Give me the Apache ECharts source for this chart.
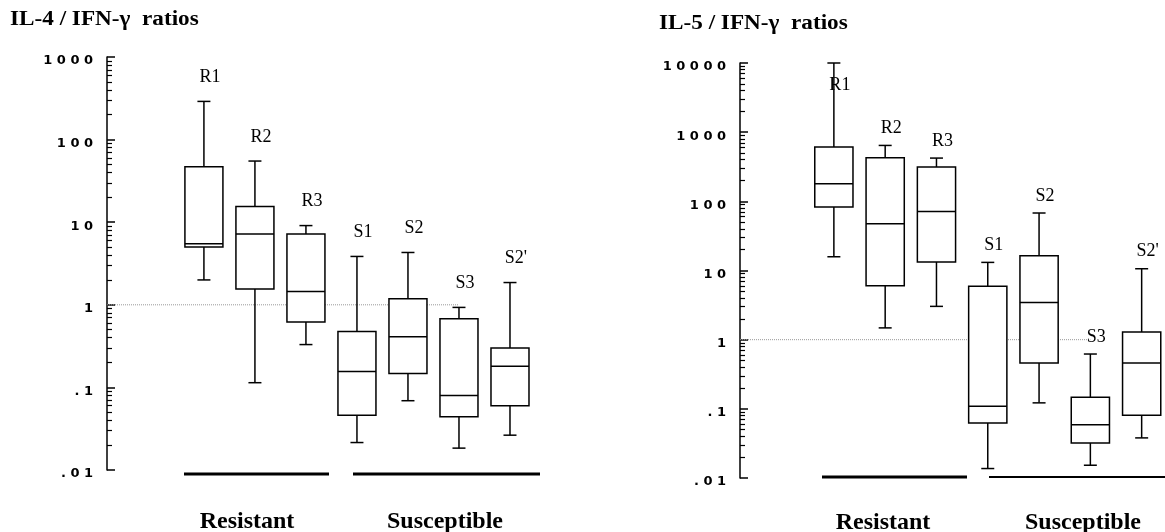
<!DOCTYPE html>
<html>
<head>
<meta charset="utf-8">
<script src="https://cdn.jsdelivr.net/npm/echarts@6/dist/echarts.min.js"></script>
<style>
  html, body { margin: 0; padding: 0; background: #fff; }
  #chart { width: 1165px; height: 532px; }
</style>
</head>
<body>
<div id="chart"></div>
<script>
  // groups (same order in both panels)
  var groups = ['R1', 'R2', 'R3', 'S1', 'S2', 'S3', "S2'"];

  // box values: [min, Q1, median, Q3, max]
  var il4Boxes = [
    [2.0, 5.0, 5.5, 47, 290],
    [0.114, 1.55, 7.2, 15.5, 55],
    [0.33, 0.62, 1.45, 7.2, 9.1],
    [0.0215, 0.046, 0.156, 0.475, 3.85],
    [0.069, 0.147, 0.41, 1.18, 4.3],
    [0.0184, 0.044, 0.08, 0.68, 0.93],
    [0.0264, 0.06, 0.18, 0.30, 1.86]
  ];
  var il5Boxes = [
    [15.8, 83, 180, 609, 10000],
    [1.48, 6.03, 47.5, 427, 643],
    [3.03, 13.3, 71.5, 313, 422],
    [0.0137, 0.0625, 0.109, 5.9, 13.1],
    [0.122, 0.46, 3.46, 16.4, 67.8],
    [0.0153, 0.032, 0.059, 0.147, 0.62],
    [0.038, 0.0806, 0.46, 1.29, 10.6]
  ];

  // y tick labels, one per decade from .01 up
  var il4TickLabels = ['. 0 1', '. 1', '1', '1 0', '1 0 0', '1 0 0 0'];
  var il5TickLabels = ['. 0 1', '. 1', '1', '1 0', '1 0 0', '1 0 0 0', '1 0 0 0 0'];

  var refLevel = 1;        // dotted line at ratio 1
  var refEndGroup = 'S3';  // dotted line runs up to this group

  var titles = ['IL-4 / IFN-\u03b3  ratios', 'IL-5 / IFN-\u03b3  ratios'];
  var groupNames = ['Resistant', 'Susceptible'];

  function decades(labels) {
    return labels.map(function (l, i) { return Math.pow(10, i - 2); });
  }
  function minors(labels) {
    var out = [];
    for (var i = 0; i < labels.length - 1; i++) {
      for (var k = 2; k <= 9; k++) out.push(k * Math.pow(10, i - 2));
    }
    return out;
  }
  function fmt(labels) {
    return function (v) {
      return labels[Math.round(Math.log10(v)) + 2];
    };
  }

  function boxData(boxes) {
    return boxes.map(function (b, i) { return [i].concat(b); });
  }

  function makeRender(labelUp, topClamp) {
    return function (params, api) {
      var i = api.value(0);
      var lo = api.coord([i, api.value(1)]);
      var q1 = api.coord([i, api.value(2)]);
      var md = api.coord([i, api.value(3)]);
      var q3 = api.coord([i, api.value(4)]);
      var hi = api.coord([i, api.value(5)]);
      var unit = api.coord([i + 0.5, api.value(3)])[0] - api.coord([i - 0.5, api.value(3)])[0];
      var bw = unit * 0.745;
      var cw = 13;
      var x = lo[0];
      var ls = { stroke: '#000', lineWidth: 1.5, fill: null };
      var labelY = Math.max(hi[1] - labelUp, topClamp);
      return {
        type: 'group',
        children: [
          { type: 'line', shape: { x1: x, y1: hi[1], x2: x, y2: q3[1] }, style: ls },
          { type: 'line', shape: { x1: x, y1: q1[1], x2: x, y2: lo[1] }, style: ls },
          { type: 'line', shape: { x1: x - cw / 2, y1: hi[1], x2: x + cw / 2, y2: hi[1] }, style: ls },
          { type: 'line', shape: { x1: x - cw / 2, y1: lo[1], x2: x + cw / 2, y2: lo[1] }, style: ls },
          { type: 'rect', shape: { x: x - bw / 2, y: q3[1], width: bw, height: q1[1] - q3[1] },
            style: { fill: '#fff', stroke: '#000', lineWidth: 1.5 } },
          { type: 'line', shape: { x1: x - bw / 2, y1: md[1], x2: x + bw / 2, y2: md[1] }, style: ls },
          { type: 'text', x: x + 6, y: labelY,
            style: { text: groups[params.dataIndex], fill: '#000', font: '18px "Liberation Serif"',
                     align: 'center', verticalAlign: 'middle' } }
        ]
      };
    };
  }

  function yAxes(grid, labels) {
    var major = decades(labels);
    return [
      {
        type: 'log', logBase: 10, gridIndex: grid, position: 'left',
        min: major[0], max: major[major.length - 1],
        axisLine: { show: true, onZero: false, lineStyle: { color: '#000', width: 1.5 } },
        axisTick: { show: true, inside: true, length: 8, customValues: major,
                    lineStyle: { color: '#000', width: 1.5 } },
        axisLabel: { customValues: major, formatter: fmt(labels), color: '#000',
                     fontFamily: 'DejaVu Sans', fontWeight: 'bold', fontSize: 13,
                     margin: 14, verticalAlign: 'top', lineHeight: 8 },
        splitLine: { show: false }
      },
      {
        type: 'log', logBase: 10, gridIndex: grid, position: 'left',
        min: major[0], max: major[major.length - 1],
        axisLine: { show: false, onZero: false },
        axisTick: { show: true, inside: true, length: 5, customValues: minors(labels),
                    lineStyle: { color: '#000', width: 1.2 } },
        axisLabel: { show: false },
        splitLine: { show: false }
      }
    ];
  }

  var refIdx = groups.indexOf(refEndGroup);
  var xMins = [-1.9, -1.83];

  var chart = echarts.init(document.getElementById('chart'));
  var option = {
    animation: false,
    backgroundColor: '#fff',
    grid: [
      { left: 107, top: 57, width: 454, height: 413 },
      { left: 740, top: 63, width: 425, height: 415 }
    ],
    xAxis: [
      { type: 'value', gridIndex: 0, min: xMins[0], max: 7, show: false },
      { type: 'value', gridIndex: 1, min: xMins[1], max: 6.455, show: false }
    ],
    yAxis: yAxes(0, il4TickLabels).concat(yAxes(1, il5TickLabels)),
    series: [
      {
        type: 'line', xAxisIndex: 0, yAxisIndex: 0, silent: true, z: 1,
        data: [[xMins[0], refLevel], [refIdx, refLevel]], symbol: 'none',
        lineStyle: { color: '#999', width: 1, type: 'dotted' }
      },
      {
        type: 'line', xAxisIndex: 1, yAxisIndex: 2, silent: true, z: 1,
        data: [[xMins[1], refLevel], [refIdx, refLevel]], symbol: 'none',
        lineStyle: { color: '#999', width: 1, type: 'dotted' }
      },
      {
        type: 'custom', xAxisIndex: 0, yAxisIndex: 0, z: 3,
        data: boxData(il4Boxes), encode: { x: 0, y: [1, 2, 3, 4, 5] },
        renderItem: makeRender(24, 57)
      },
      {
        type: 'custom', xAxisIndex: 1, yAxisIndex: 2, z: 3,
        data: boxData(il5Boxes), encode: { x: 0, y: [1, 2, 3, 4, 5] },
        renderItem: makeRender(17, 85)
      }
    ],
    graphic: [
      { type: 'text', left: 10, top: 10, scaleX: 1.16,
        style: { text: titles[0], font: 'bold 20px "Liberation Serif"', fill: '#000' } },
      { type: 'text', left: 659, top: 14, scaleX: 1.16,
        style: { text: titles[1], font: 'bold 20px "Liberation Serif"', fill: '#000' } },
      // group underlines
      { type: 'line', shape: { x1: 184, y1: 474, x2: 329, y2: 474 }, style: { stroke: '#000', lineWidth: 3 } },
      { type: 'line', shape: { x1: 353, y1: 474, x2: 540, y2: 474 }, style: { stroke: '#000', lineWidth: 3 } },
      { type: 'line', shape: { x1: 822, y1: 477, x2: 967, y2: 477 }, style: { stroke: '#000', lineWidth: 3 } },
      { type: 'line', shape: { x1: 989, y1: 477, x2: 1165, y2: 477 }, style: { stroke: '#000', lineWidth: 2 } },
      { type: 'text', x: 247, y: 522,
        style: { text: groupNames[0], font: 'bold 24px "Liberation Serif"', fill: '#000', align: 'center', verticalAlign: 'middle' } },
      { type: 'text', x: 445, y: 522,
        style: { text: groupNames[1], font: 'bold 24px "Liberation Serif"', fill: '#000', align: 'center', verticalAlign: 'middle' } },
      { type: 'text', x: 883, y: 523,
        style: { text: groupNames[0], font: 'bold 24px "Liberation Serif"', fill: '#000', align: 'center', verticalAlign: 'middle' } },
      { type: 'text', x: 1083, y: 523,
        style: { text: groupNames[1], font: 'bold 24px "Liberation Serif"', fill: '#000', align: 'center', verticalAlign: 'middle' } }
    ]
  };
  chart.setOption(option);
</script>
</body>
</html>
